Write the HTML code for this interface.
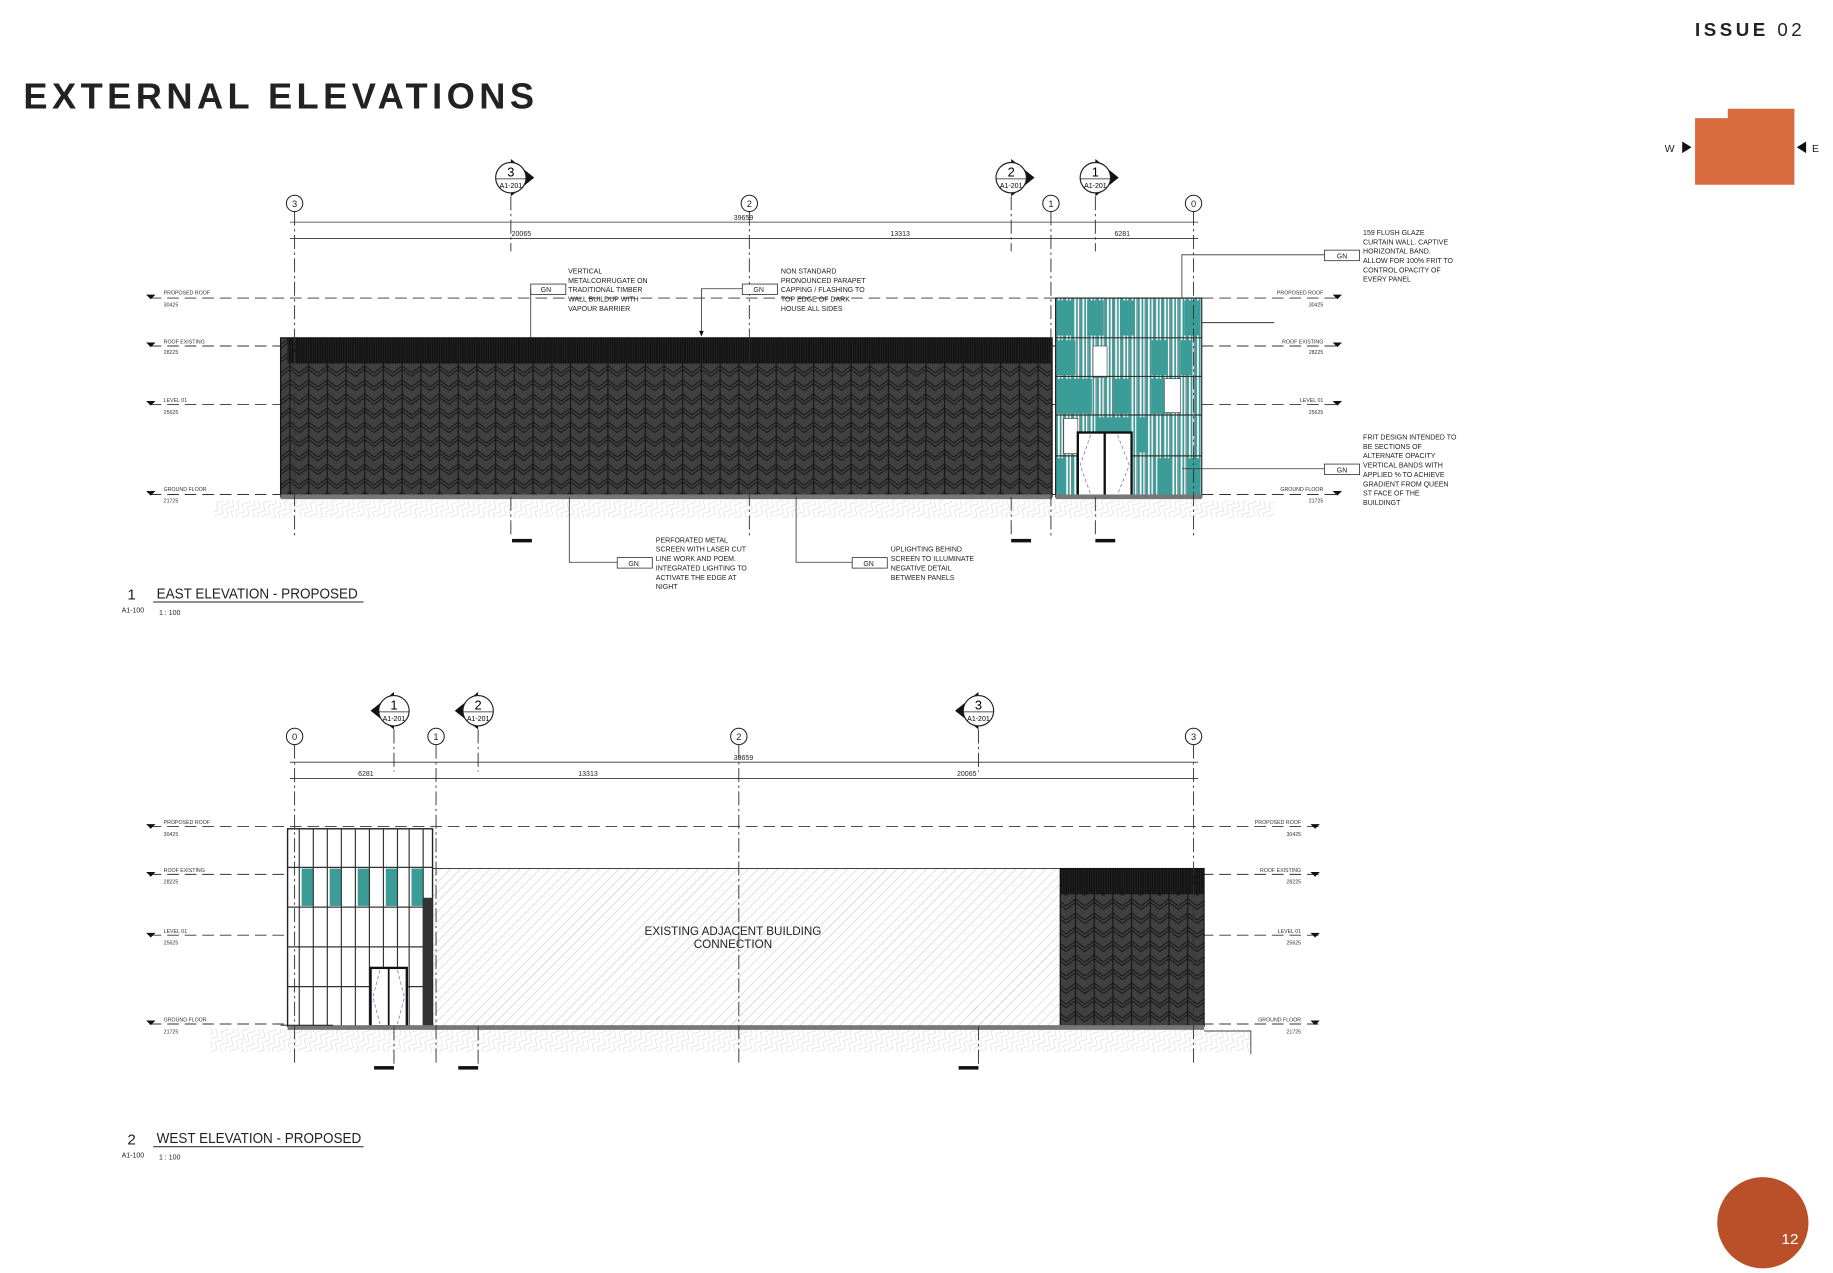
<!DOCTYPE html>
<html><head><meta charset="utf-8"><style>
html,body{margin:0;padding:0;background:#fff;}
svg{display:block;}
text{font-family:"Liberation Sans",sans-serif;}
.n{font-family:"Liberation Sans",sans-serif;font-size:6px;fill:#222;}
.s{font-size:4.5px;fill:#333;}
</style></head><body>
<svg width="1833" height="1273" viewBox="0 0 1568 1089" preserveAspectRatio="none" xmlns="http://www.w3.org/2000/svg">
<defs>
<pattern id="chev" width="16" height="12" patternUnits="userSpaceOnUse">
<rect width="16" height="12" fill="#404040"/>
<path d="M0 7 L8 1 L16 7 M0 10 L8 4 L16 10" stroke="#141414" stroke-width="0.8" fill="none"/>
<line x1="8" y1="0" x2="8" y2="12" stroke="#151515" stroke-width="1"/>
</pattern>
<pattern id="corr" width="2" height="10" patternUnits="userSpaceOnUse">
<rect width="2" height="10" fill="#111"/><line x1="1" y1="0" x2="1" y2="10" stroke="#2a2a2a" stroke-width="0.6"/>
</pattern>
<pattern id="hatch" width="6" height="6" patternUnits="userSpaceOnUse" patternTransform="rotate(45)">
<line x1="0" y1="0" x2="0" y2="6" stroke="#aaa" stroke-width="0.6"/>
</pattern>
<pattern id="ground" width="10" height="10" patternUnits="userSpaceOnUse" patternTransform="rotate(30)">
<path d="M0 0 L5 5 L0 10 M5 0 L10 5 L5 10" stroke="#ddd" stroke-width="0.6" fill="none"/>
</pattern>
<pattern id="stripe" width="7" height="10" patternUnits="userSpaceOnUse">
<rect width="7" height="10" fill="#fff"/><rect x="0" width="2" height="10" fill="#3c9c98"/><rect x="3.5" width="1.5" height="10" fill="#3c9c98"/><line x1="6.5" y1="0" x2="6.5" y2="10" stroke="#333" stroke-width="0.5"/>
</pattern>
</defs>

<!-- header -->
<text x="20" y="93" font-size="31" font-weight="bold" letter-spacing="3.8" fill="#222">EXTERNAL ELEVATIONS</text>
<text x="1450" y="31" font-size="16" font-weight="bold" letter-spacing="3" fill="#222">ISSUE <tspan font-weight="normal">02</tspan></text>
<polygon points="1450,101 1478,101 1478,93 1535,93 1535,158 1450,158" fill="#d86c3e"/>
<text x="1424" y="130" font-size="9" fill="#222">W</text>
<polygon points="1439,121 1447,126 1439,131" fill="#111"/>
<polygon points="1545,121 1537,126 1545,131" fill="#111"/>
<text x="1550" y="130" font-size="9" fill="#222">E</text>
<ellipse cx="1508" cy="1046" rx="39" ry="39" fill="#b9502a"/>
<text x="1524" y="1064" font-size="13" fill="#fff">12</text>

<!-- ============ EAST ELEVATION ============ -->
<g stroke="#333" stroke-width="0.8" stroke-dasharray="10 5" fill="none">
<line x1="128" y1="255" x2="1147" y2="255"/>
<line x1="128" y1="296" x2="1147" y2="296"/>
<line x1="128" y1="346" x2="1147" y2="346"/>
<line x1="128" y1="423" x2="1147" y2="423"/>
</g>
<rect x="183" y="428" width="907" height="15" fill="url(#ground)"/>
<rect x="240" y="289" width="660" height="136" fill="url(#chev)"/>
<rect x="246" y="289" width="654" height="22" fill="url(#corr)"/>
<rect x="240" y="289" width="660" height="136" fill="none" stroke="#111" stroke-width="1"/>
<rect x="240" y="423" width="660" height="4" fill="#777"/>
<!-- glass east -->
<rect x="903" y="255" width="125" height="170" fill="url(#stripe)" stroke="#222" stroke-width="1"/>
<g fill="#3c9c98">
<rect x="904" y="257" width="13" height="30"/><rect x="930" y="257" width="14" height="30"/><rect x="958" y="257" width="12" height="30"/><rect x="1013" y="257" width="14" height="30"/>
<rect x="904" y="291" width="16" height="30"/><rect x="985" y="291" width="14" height="30"/><rect x="1010" y="291" width="10" height="30"/>
<rect x="904" y="324" width="30" height="30"/><rect x="952" y="324" width="14" height="30"/><rect x="985" y="324" width="15" height="30"/>
<rect x="937" y="357" width="30" height="14"/><rect x="972" y="357" width="10" height="30"/>
<rect x="904" y="392" width="8" height="31"/><rect x="990" y="392" width="12" height="31"/><rect x="1015" y="392" width="12" height="31"/>
</g>
<rect x="996" y="324" width="14" height="29" fill="#fff" stroke="#333" stroke-width="0.5"/>
<rect x="935" y="296" width="12" height="27" fill="#fff" stroke="#333" stroke-width="0.5"/>
<rect x="910" y="358" width="12" height="30" fill="#fff" stroke="#333" stroke-width="0.5"/>
<g stroke="#333" stroke-width="1"><line x1="903" y1="289" x2="1028" y2="289"/><line x1="903" y1="322" x2="1028" y2="322"/><line x1="903" y1="355" x2="1028" y2="355"/><line x1="903" y1="390" x2="1028" y2="390"/></g>
<rect x="922" y="370" width="46" height="55" fill="#fff" stroke="#111" stroke-width="2"/>
<line x1="945" y1="370" x2="945" y2="425" stroke="#111" stroke-width="2"/>
<path d="M933 372 L924 398 L933 423 M956 372 L966 398 L956 423" stroke="#66f" stroke-width="0.6" stroke-dasharray="3 2" fill="none"/>
<rect x="903" y="423" width="125" height="4" fill="#777"/>
<line x1="1028" y1="276" x2="1090" y2="276" stroke="#333" stroke-width="0.8"/>
<g stroke="#333" stroke-width="0.8" stroke-dasharray="12 3 2 3" fill="none">
<line x1="252" y1="181" x2="252" y2="458"/><line x1="641" y1="181" x2="641" y2="458"/><line x1="899" y1="181" x2="899" y2="458"/><line x1="1021" y1="181" x2="1021" y2="458"/>
<line x1="437" y1="168" x2="437" y2="215"/><line x1="865" y1="168" x2="865" y2="215"/><line x1="937" y1="168" x2="937" y2="215"/>
<line x1="437" y1="425" x2="437" y2="458"/><line x1="865" y1="425" x2="865" y2="458"/><line x1="937" y1="425" x2="937" y2="458"/>
</g>
<g fill="#fff" stroke="#222" stroke-width="0.9">
<circle cx="252" cy="174" r="7"/><circle cx="641" cy="174" r="7"/><circle cx="899" cy="174" r="7"/><circle cx="1021" cy="174" r="7"/>
</g>
<g class="n" text-anchor="middle" font-size="8"><text x="252" y="177" font-size="8">3</text><text x="641" y="177" font-size="8">2</text><text x="899" y="177" font-size="8">1</text><text x="1021" y="177" font-size="8">0</text></g>
<g>
<polygon points="437,136 457,152 437,168" fill="#111"/><circle cx="437" cy="152" r="13" fill="#fff" stroke="#222"/><line x1="424" y1="153" x2="450" y2="153" stroke="#222" stroke-width="0.6"/>
<text x="437" y="151" font-size="11" text-anchor="middle">3</text><text x="437" y="161" font-size="6" text-anchor="middle">A1-201</text>
<polygon points="865,136 885,152 865,168" fill="#111"/><circle cx="865" cy="152" r="13" fill="#fff" stroke="#222"/><line x1="852" y1="153" x2="878" y2="153" stroke="#222" stroke-width="0.6"/>
<text x="865" y="151" font-size="11" text-anchor="middle">2</text><text x="865" y="161" font-size="6" text-anchor="middle">A1-201</text>
<polygon points="937,136 957,152 937,168" fill="#111"/><circle cx="937" cy="152" r="13" fill="#fff" stroke="#222"/><line x1="924" y1="153" x2="950" y2="153" stroke="#222" stroke-width="0.6"/>
<text x="937" y="151" font-size="11" text-anchor="middle">1</text><text x="937" y="161" font-size="6" text-anchor="middle">A1-201</text>
</g>
<g stroke="#333" stroke-width="0.7"><line x1="248" y1="190" x2="1025" y2="190"/><line x1="248" y1="204" x2="1025" y2="204"/></g>
<g class="n" text-anchor="middle"><text x="636" y="188">39659</text><text x="446" y="202">20065</text><text x="770" y="202">13313</text><text x="960" y="202">6281</text></g>
<g class="n s">
<text x="140" y="252">PROPOSED ROOF</text><text x="140" y="262">30425</text>
<text x="140" y="294">ROOF EXISTING</text><text x="140" y="303">28225</text>
<text x="140" y="344">LEVEL 01</text><text x="140" y="354">25625</text>
<text x="140" y="420">GROUND FLOOR</text><text x="140" y="430">21725</text>
<text x="1132" y="252" text-anchor="end">PROPOSED ROOF</text><text x="1132" y="262" text-anchor="end">30425</text>
<text x="1132" y="294" text-anchor="end">ROOF EXISTING</text><text x="1132" y="303" text-anchor="end">28225</text>
<text x="1132" y="344" text-anchor="end">LEVEL 01</text><text x="1132" y="354" text-anchor="end">25625</text>
<text x="1132" y="420" text-anchor="end">GROUND FLOOR</text><text x="1132" y="430" text-anchor="end">21725</text>
</g>
<g fill="#111">
<polygon points="125,252 133,252 129,256"/><polygon points="125,293 133,293 129,297"/><polygon points="125,343 133,343 129,347"/><polygon points="125,420 133,420 129,424"/>
<polygon points="1140,252 1148,252 1144,256"/><polygon points="1140,293 1148,293 1144,297"/><polygon points="1140,343 1148,343 1144,347"/><polygon points="1140,420 1148,420 1144,424"/>
<rect x="438" y="461" width="17" height="3"/><rect x="865" y="461" width="17" height="3"/><rect x="937" y="461" width="17" height="3"/>
</g>
<g stroke="#333" stroke-width="0.7" fill="#fff">
<rect x="454" y="243" width="30" height="9"/><rect x="635" y="243" width="30" height="9"/><rect x="1133" y="214" width="30" height="9"/><rect x="1133" y="397" width="30" height="9"/>
<rect x="528" y="477" width="30" height="9"/><rect x="729" y="477" width="30" height="9"/>
<polyline points="454,247 454,289" fill="none"/><polyline points="635,247 600,247 600,287" fill="none"/>
<polyline points="1133,218 1011,218 1011,255" fill="none"/><polyline points="1133,401 1011,401" fill="none"/>
<polyline points="528,481 487,481 487,425" fill="none"/><polyline points="729,481 681,481 681,425" fill="none"/>
</g>
<polygon points="598,283 602,283 600,288" fill="#111"/>
<g class="n" font-size="5.5" text-anchor="middle"><text x="467" y="250">GN</text><text x="649" y="250">GN</text><text x="1148" y="221">GN</text><text x="1148" y="404">GN</text><text x="542" y="484">GN</text><text x="743" y="484">GN</text></g>
<g class="n" font-size="6">
<text x="486" y="234">VERTICAL</text><text x="486" y="242">METALCORRUGATE ON</text><text x="486" y="250">TRADITIONAL TIMBER</text><text x="486" y="258">WALL BUILDUP WITH</text><text x="486" y="266">VAPOUR BARRIER</text>
<text x="668" y="234">NON STANDARD</text><text x="668" y="242">PRONOUNCED PARAPET</text><text x="668" y="250">CAPPING / FLASHING TO</text><text x="668" y="258">TOP EDGE OF DARK</text><text x="668" y="266">HOUSE ALL SIDES</text>
<text x="1166" y="201">159 FLUSH GLAZE</text><text x="1166" y="209">CURTAIN WALL. CAPTIVE</text><text x="1166" y="217">HORIZONTAL BAND.</text><text x="1166" y="225">ALLOW FOR 100% FRIT TO</text><text x="1166" y="233">CONTROL OPACITY OF</text><text x="1166" y="241">EVERY PANEL</text>
<text x="1166" y="376">FRIT DESIGN INTENDED TO</text><text x="1166" y="384">BE SECTIONS OF</text><text x="1166" y="392">ALTERNATE OPACITY</text><text x="1166" y="400">VERTICAL BANDS WITH</text><text x="1166" y="408">APPLIED % TO ACHIEVE</text><text x="1166" y="416">GRADIENT FROM QUEEN</text><text x="1166" y="424">ST FACE OF THE</text><text x="1166" y="432">BUILDINGT</text>
<text x="561" y="464">PERFORATED METAL</text><text x="561" y="472">SCREEN WITH LASER CUT</text><text x="561" y="480">LINE WORK AND POEM.</text><text x="561" y="488">INTEGRATED LIGHTING TO</text><text x="561" y="496">ACTIVATE THE EDGE AT</text><text x="561" y="504">NIGHT</text>
<text x="762" y="472">UPLIGHTING BEHIND</text><text x="762" y="480">SCREEN TO ILLUMINATE</text><text x="762" y="488">NEGATIVE DETAIL</text><text x="762" y="496">BETWEEN PANELS</text>
</g>
<text x="109" y="513" font-size="13" fill="#222">1</text>
<text x="134" y="512" font-size="13" fill="#222" textLength="172" lengthAdjust="spacingAndGlyphs">EAST ELEVATION - PROPOSED</text>
<line x1="131" y1="515" x2="311" y2="515" stroke="#222" stroke-width="0.8"/>
<text x="104" y="524" class="n" font-size="5.5">A1-100</text><text x="136" y="526" class="n" font-size="6">1 : 100</text>

<!-- ============ WEST ELEVATION ============ -->
<g stroke="#333" stroke-width="0.8" stroke-dasharray="10 5" fill="none">
<line x1="128" y1="707" x2="1128" y2="707"/>
<line x1="128" y1="748" x2="1128" y2="748"/>
<line x1="128" y1="800" x2="1128" y2="800"/>
<line x1="128" y1="876" x2="1128" y2="876"/>
</g>
<rect x="180" y="880" width="890" height="20" fill="url(#ground)"/>
<polyline points="1030,882 1070,882 1070,902" stroke="#444" stroke-width="0.8" fill="none"/>
<rect x="370" y="743" width="537" height="135" fill="#fff"/>
<rect x="370" y="743" width="537" height="135" fill="url(#hatch)" stroke="#333" stroke-width="0.8"/>
<text x="627" y="800" font-size="10" text-anchor="middle" fill="#222">EXISTING ADJACENT BUILDING</text>
<text x="627" y="811" font-size="10" text-anchor="middle" fill="#222">CONNECTION</text>
<rect x="907" y="743" width="123" height="135" fill="url(#chev)"/>
<rect x="907" y="743" width="123" height="22" fill="url(#corr)"/>
<rect x="907" y="743" width="123" height="135" fill="none" stroke="#111"/>
<rect x="246" y="709" width="124" height="169" fill="#fff" stroke="#222" stroke-width="1.2"/>
<g fill="#3c9c98"><rect x="258" y="743" width="10" height="32"/><rect x="282" y="743" width="10" height="32"/><rect x="306" y="743" width="10" height="32"/><rect x="330" y="743" width="10" height="32"/><rect x="352" y="743" width="10" height="32"/></g>
<g stroke="#333" stroke-width="1">
<line x1="256" y1="709" x2="256" y2="878"/><line x1="268" y1="709" x2="268" y2="878"/><line x1="280" y1="709" x2="280" y2="878"/><line x1="292" y1="709" x2="292" y2="878"/><line x1="304" y1="709" x2="304" y2="878"/><line x1="316" y1="709" x2="316" y2="878"/><line x1="328" y1="709" x2="328" y2="878"/><line x1="340" y1="709" x2="340" y2="878"/><line x1="350" y1="709" x2="350" y2="878"/><line x1="362" y1="709" x2="362" y2="878"/>
<line x1="246" y1="742" x2="370" y2="742"/><line x1="246" y1="776" x2="370" y2="776"/><line x1="246" y1="810" x2="370" y2="810"/><line x1="246" y1="844" x2="370" y2="844"/>
</g>
<rect x="362" y="768" width="8" height="110" fill="#333"/>
<rect x="317" y="828" width="31" height="50" fill="#fff" stroke="#111" stroke-width="2"/>
<line x1="332.5" y1="828" x2="332.5" y2="878" stroke="#111" stroke-width="1.5"/>
<path d="M325 830 L319 853 L325 876 M340 830 L346 853 L340 876" stroke="#66f" stroke-width="0.6" stroke-dasharray="3 2" fill="none"/>
<rect x="246" y="877" width="784" height="4" fill="#777"/>
<line x1="240" y1="877" x2="285" y2="877" stroke="#111" stroke-width="0.8"/>
<g stroke="#333" stroke-width="0.8" stroke-dasharray="12 3 2 3" fill="none">
<line x1="252" y1="637" x2="252" y2="910"/><line x1="373" y1="637" x2="373" y2="910"/><line x1="632" y1="637" x2="632" y2="910"/><line x1="1021" y1="637" x2="1021" y2="910"/>
<line x1="337" y1="624" x2="337" y2="660"/><line x1="409" y1="624" x2="409" y2="660"/><line x1="837" y1="624" x2="837" y2="660"/>
<line x1="337" y1="878" x2="337" y2="910"/><line x1="409" y1="878" x2="409" y2="910"/><line x1="837" y1="878" x2="837" y2="910"/>
</g>
<g fill="#fff" stroke="#222" stroke-width="0.9"><circle cx="252" cy="630" r="7"/><circle cx="373" cy="630" r="7"/><circle cx="632" cy="630" r="7"/><circle cx="1021" cy="630" r="7"/></g>
<g class="n" text-anchor="middle"><text x="252" y="633" font-size="8">0</text><text x="373" y="633" font-size="8">1</text><text x="632" y="633" font-size="8">2</text><text x="1021" y="633" font-size="8">3</text></g>
<g>
<polygon points="337,592 317,608 337,624" fill="#111"/><circle cx="337" cy="608" r="13" fill="#fff" stroke="#222"/><line x1="324" y1="609" x2="350" y2="609" stroke="#222" stroke-width="0.6"/>
<text x="337" y="607" font-size="11" text-anchor="middle">1</text><text x="337" y="617" font-size="6" text-anchor="middle">A1-201</text>
<polygon points="409,592 389,608 409,624" fill="#111"/><circle cx="409" cy="608" r="13" fill="#fff" stroke="#222"/><line x1="396" y1="609" x2="422" y2="609" stroke="#222" stroke-width="0.6"/>
<text x="409" y="607" font-size="11" text-anchor="middle">2</text><text x="409" y="617" font-size="6" text-anchor="middle">A1-201</text>
<polygon points="837,592 817,608 837,624" fill="#111"/><circle cx="837" cy="608" r="13" fill="#fff" stroke="#222"/><line x1="824" y1="609" x2="850" y2="609" stroke="#222" stroke-width="0.6"/>
<text x="837" y="607" font-size="11" text-anchor="middle">3</text><text x="837" y="617" font-size="6" text-anchor="middle">A1-201</text>
</g>
<g stroke="#333" stroke-width="0.7"><line x1="248" y1="652" x2="1025" y2="652"/><line x1="248" y1="666" x2="1025" y2="666"/></g>
<g class="n" text-anchor="middle"><text x="636" y="650">39659</text><text x="313" y="664">6281</text><text x="503" y="664">13313</text><text x="827" y="664">20065</text></g>
<g class="n s">
<text x="140" y="705">PROPOSED ROOF</text><text x="140" y="715">30425</text>
<text x="140" y="746">ROOF EXISTING</text><text x="140" y="756">28225</text>
<text x="140" y="798">LEVEL 01</text><text x="140" y="808">25625</text>
<text x="140" y="874">GROUND FLOOR</text><text x="140" y="884">21725</text>
<text x="1113" y="705" text-anchor="end">PROPOSED ROOF</text><text x="1113" y="715" text-anchor="end">30425</text>
<text x="1113" y="746" text-anchor="end">ROOF EXISTING</text><text x="1113" y="756" text-anchor="end">28225</text>
<text x="1113" y="798" text-anchor="end">LEVEL 01</text><text x="1113" y="808" text-anchor="end">25625</text>
<text x="1113" y="874" text-anchor="end">GROUND FLOOR</text><text x="1113" y="884" text-anchor="end">21725</text>
</g>
<g fill="#111">
<polygon points="125,705 133,705 129,709"/><polygon points="125,746 133,746 129,750"/><polygon points="125,798 133,798 129,802"/><polygon points="125,873 133,873 129,877"/>
<polygon points="1121,705 1129,705 1125,709"/><polygon points="1121,746 1129,746 1125,750"/><polygon points="1121,798 1129,798 1125,802"/><polygon points="1121,873 1129,873 1125,877"/>
<rect x="320" y="912" width="17" height="3"/><rect x="392" y="912" width="17" height="3"/><rect x="820" y="912" width="17" height="3"/>
</g>
<text x="109" y="979" font-size="13" fill="#222">2</text>
<text x="134" y="978" font-size="13" fill="#222" textLength="175" lengthAdjust="spacingAndGlyphs">WEST ELEVATION - PROPOSED</text>
<line x1="131" y1="981" x2="311" y2="981" stroke="#222" stroke-width="0.8"/>
<text x="104" y="990" class="n" font-size="5.5">A1-100</text><text x="136" y="992" class="n" font-size="6">1 : 100</text>
</svg>
</body></html>
